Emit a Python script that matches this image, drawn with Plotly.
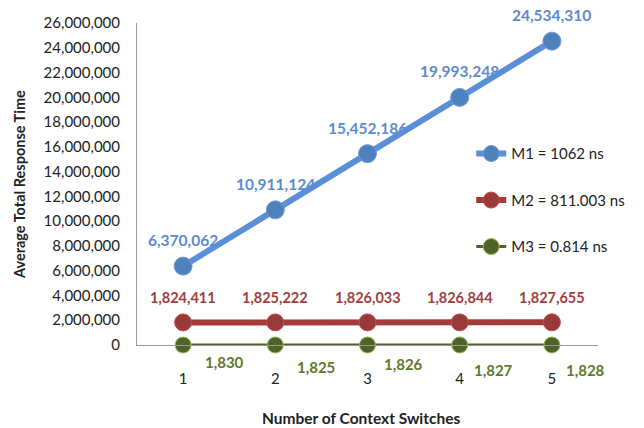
import plotly.graph_objects as go

categories = [1, 2, 3, 4, 5]
m1_values = [6370062, 10911124, 15452186, 19993248, 24534310]
m2_values = [1824411, 1825222, 1826033, 1826844, 1827655]
m3_values = [1830, 1825, 1826, 1827, 1828]
series_names = ["M1 = 1062 ns", "M2 = 811.003 ns", "M3 = 0.814 ns"]
y_ticks = list(range(0, 26000001, 2000000))
x_title = "Number of Context Switches"
y_title = "Average Total Response Time"

FONT = "Lato"

fig = go.Figure()

fig.add_trace(go.Scatter(
    x=categories, y=m1_values, name=series_names[0], mode="lines+markers",
    line=dict(color="#5A8FD8", width=6),
    marker=dict(color="#4F81BD", size=18, line=dict(color="#6F9BD8", width=1)),
    legendgroup="a", cliponaxis=False, hoverinfo="skip",
))
fig.add_trace(go.Scatter(
    x=categories, y=m2_values, name=series_names[1], mode="lines+markers",
    line=dict(color="#A33B39", width=6),
    marker=dict(color="#993A38", size=17, line=dict(color="#C0504D", width=1)),
    legendgroup="b", cliponaxis=False, hoverinfo="skip",
))
fig.add_trace(go.Scatter(
    x=categories, y=m3_values, name=series_names[2], mode="lines+markers",
    line=dict(color="#4F6228", width=3),
    marker=dict(color="#4F6228", size=16, line=dict(color="#9BBB59", width=1)),
    legendgroup="c", cliponaxis=False, hoverinfo="skip",
))

# data labels
for x, v in zip(categories, m1_values):
    fig.add_annotation(x=x, y=v, text=f"<b>{v:,}</b>", showarrow=False,
                       xanchor="center", yanchor="middle", yshift=26,
                       font=dict(family=FONT, size=15.5, color="#5B8BD0"))
for x, v in zip(categories, m2_values):
    fig.add_annotation(x=x, y=v, text=f"<b>{v:,}</b>", showarrow=False,
                       xanchor="center", yanchor="middle", yshift=25,
                       font=dict(family=FONT, size=14.5, color="#A0403D"))
m3_xshift = [20, 20, 14, 12, 12]
m3_yshift = [-17, -22, -19, -25, -25]
for x, v, xs, ys in zip(categories, m3_values, m3_xshift, m3_yshift):
    fig.add_annotation(x=x, y=v, text=f"<b>{v:,}</b>", showarrow=False,
                       xanchor="left", yanchor="middle", xshift=xs, yshift=ys,
                       font=dict(family=FONT, size=15, color="#5E7A2A"))

# axis titles
fig.add_annotation(xref="paper", yref="paper", x=0.488, y=-0.227,
                   text=f"<b>{x_title}</b>", showarrow=False,
                   xanchor="center", yanchor="middle",
                   font=dict(family=FONT, size=15.5, color="#222222"))
fig.add_annotation(xref="paper", yref="paper", x=-0.256, y=0.5,
                   text=f"<b>{y_title}</b>", showarrow=False, textangle=-90,
                   xanchor="center", yanchor="middle",
                   font=dict(family=FONT, size=14.5, color="#222222"))

fig.update_layout(
    width=644, height=428,
    margin=dict(l=137, r=46, t=23, b=83),
    paper_bgcolor="white", plot_bgcolor="white",
    font=dict(family=FONT, size=14, color="#222222"),
    showlegend=True,
    legend=dict(x=0.725, y=0.645, xanchor="left", yanchor="top",
                bgcolor="rgba(0,0,0,0)", tracegroupgap=24,
                font=dict(family=FONT, size=15, color="#222222")),
    xaxis=dict(
        range=[0.5, 5.5], tickvals=categories, ticktext=[str(c) for c in categories],
        showgrid=False, zeroline=False, showline=True, linecolor="#999999", linewidth=1,
        ticks="", ticklabelstandoff=20, tickfont=dict(family=FONT, size=15, color="#222222"),
        automargin=False, fixedrange=True,
    ),
    yaxis=dict(
        range=[0, 26000000], tickvals=y_ticks, tickformat=",d",
        showgrid=False, zeroline=False, showline=True, linecolor="#999999", linewidth=1,
        ticks="", tickfont=dict(family=FONT, size=15, color="#222222"), ticklabelstandoff=13,
        automargin=False, fixedrange=True,
    ),
)

fig.write_html("out.html", config={"displayModeBar": False},
               post_script="document.body.style.margin='0';")
